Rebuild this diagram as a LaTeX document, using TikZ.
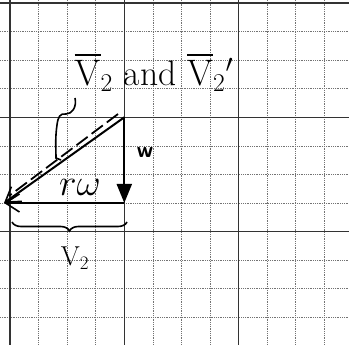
\documentclass[tikz,border=0pt]{standalone}
\usepackage{amsmath}
\usepackage{tikz}
\usetikzlibrary{arrows.meta,positioning,calc,decorations.pathreplacing}

\begin{document}
\begin{tikzpicture}[x=1pt, y=-1pt, >=Stealth]
        % Style definitions
        \tikzset{
            minorline/.style={black!55, line width=0.6pt, dash pattern=on 1pt off 0.8pt},
            majorline/.style={black!80, line width=1.1pt},
            vec/.style={line width=2pt},
            openhead/.style={-{Straight Barb[length=14pt, width=18pt, line width=1.6pt]}},
            hand/.style={line width=1.6pt},
            lbl/.style={inner sep=0pt}
        }
        \useasboundingbox (0,0) rectangle (349,345);

        % Grid paper
        \fill[white] (0,0) rectangle (349,345);
        \foreach \i in {0,...,12} {
            \draw[minorline] ({10+28.57*\i},0) -- ({10+28.57*\i},345);
            \draw[minorline] (0,{3+28.57*\i}) -- (349,{3+28.57*\i});
        }
        \foreach \i in {0,1,2} {
            \draw[majorline] ({10+114.3*\i},0) -- ({10+114.3*\i},345);
            \draw[majorline] (0,{3+114.3*\i}) -- (349,{3+114.3*\i});
        }

        % Points
        \coordinate (top) at (124.3,117.3);
        \coordinate (corner) at (124.3,203);
        \coordinate (tip) at (4,203);
        \coordinate (dtop) at (118,114);
        \coordinate (dtip) at (9,196);

        % Vectors
        \draw[vec, -{Triangle[length=19pt, width=15pt]}] (top) -- (corner);
        \draw[vec, openhead] (corner) -- (tip);
        \draw[vec, openhead] (top) -- (tip);
        \draw[hand, line width=1.8pt, dash pattern=on 14pt off 5pt] (dtop) -- (dtip);

        % Labels
        \node[lbl] (vv) at (154,72) {\scalebox{1.48}{\fontsize{24}{26}\selectfont$\overline{\mathrm{V}}_2$ and $\overline{\mathrm{V}}_2{}'$}};
        \node[lbl, font=\fontsize{22}{24}\selectfont\sffamily\bfseries] (w) at (145,152) {w};
        \node[lbl] (rw) at (80,187) {\scalebox{1.5}{\fontsize{24}{26}\selectfont$r\omega$}};
        \node[lbl] (v2) at (75,258) {\scalebox{1.1}{\fontsize{24}{26}\selectfont$\mathrm{V}_2$}};

        % Braces
        \draw[hand] (75,98) .. controls (77,107) and (72,114) .. (66,114)
            .. controls (60,113) and (58,117) .. (57,125)
            .. controls (55,138) and (56,150) .. (56,158) -- (61,160);
        \draw[hand, decorate, decoration={brace, mirror, amplitude=9pt}] (12,222) -- (127,222);
\end{tikzpicture}
\end{document}
